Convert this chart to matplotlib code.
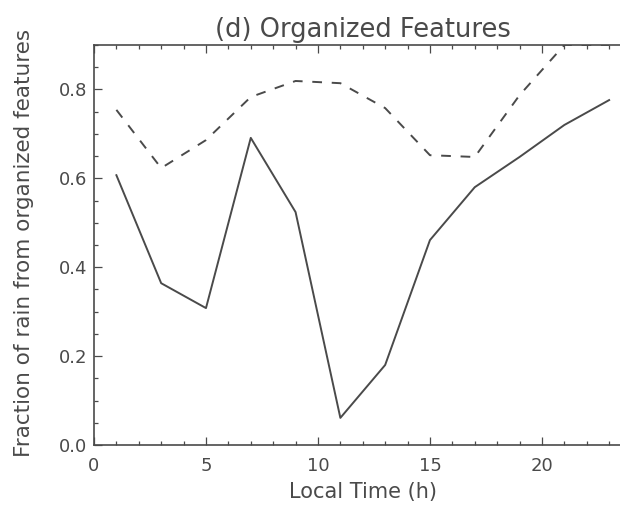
import numpy as np
from matplotlib import pyplot as plt
from matplotlib.ticker import MultipleLocator

# local time (h) and fraction of rain from organized features
hours = [1, 3, 5, 7, 9, 11, 13, 15, 17, 19, 21, 23]
frac_solid = [0.607, 0.364, 0.308, 0.691, 0.524, 0.061, 0.18, 0.461, 0.58, 0.648, 0.72, 0.776]
frac_dashed = [0.754, 0.623, 0.686, 0.783, 0.819, 0.814, 0.758, 0.652, 0.648, 0.787, 0.90, 0.90]

xticks = [0, 5, 10, 15, 20]
yticks = [0.0, 0.2, 0.4, 0.6, 0.8]

ink = '#4a4a4a'

fig = plt.figure(figsize=(6.2, 5.07), dpi=100)
# right edge of the frame (24 h) runs just past the figure border
ax = fig.add_axes([0.1516, 0.1223, 0.867, 0.789])

ax.plot(hours, frac_solid, '-', color=ink, lw=1.4)
ax.plot(hours, frac_dashed, '--', color=ink, lw=1.4, dashes=(5, 5))

ax.set_xlim(0, 24)
ax.set_ylim(0, 0.9)
ax.set_xticks(xticks)
ax.set_xticklabels([str(v) for v in xticks])
ax.set_yticks(yticks)
ax.set_yticklabels(['%.1f' % v for v in yticks])
ax.xaxis.set_minor_locator(MultipleLocator(1))
ax.yaxis.set_minor_locator(MultipleLocator(0.05))

ax.tick_params(which='both', direction='in', top=True, right=True,
               colors=ink, labelsize=13, width=0.9)
ax.tick_params(which='major', length=6)
ax.tick_params(which='minor', length=3)
ax.tick_params(axis='x', pad=9)
ax.tick_params(axis='y', pad=5)
for s in ax.spines.values():
    s.set_color(ink)
    s.set_linewidth(1.2)

ax.set_title('(d) Organized Features', fontsize=18.5, color=ink, pad=6)
ax.set_xlabel('Local Time (h)', fontsize=15, color=ink, labelpad=5)
ax.set_ylabel('Fraction of rain from organized features', fontsize=15.5,
              color=ink)
ax.yaxis.set_label_coords(-0.1115, 0.506)

fig.savefig('out.png', dpi=100)
